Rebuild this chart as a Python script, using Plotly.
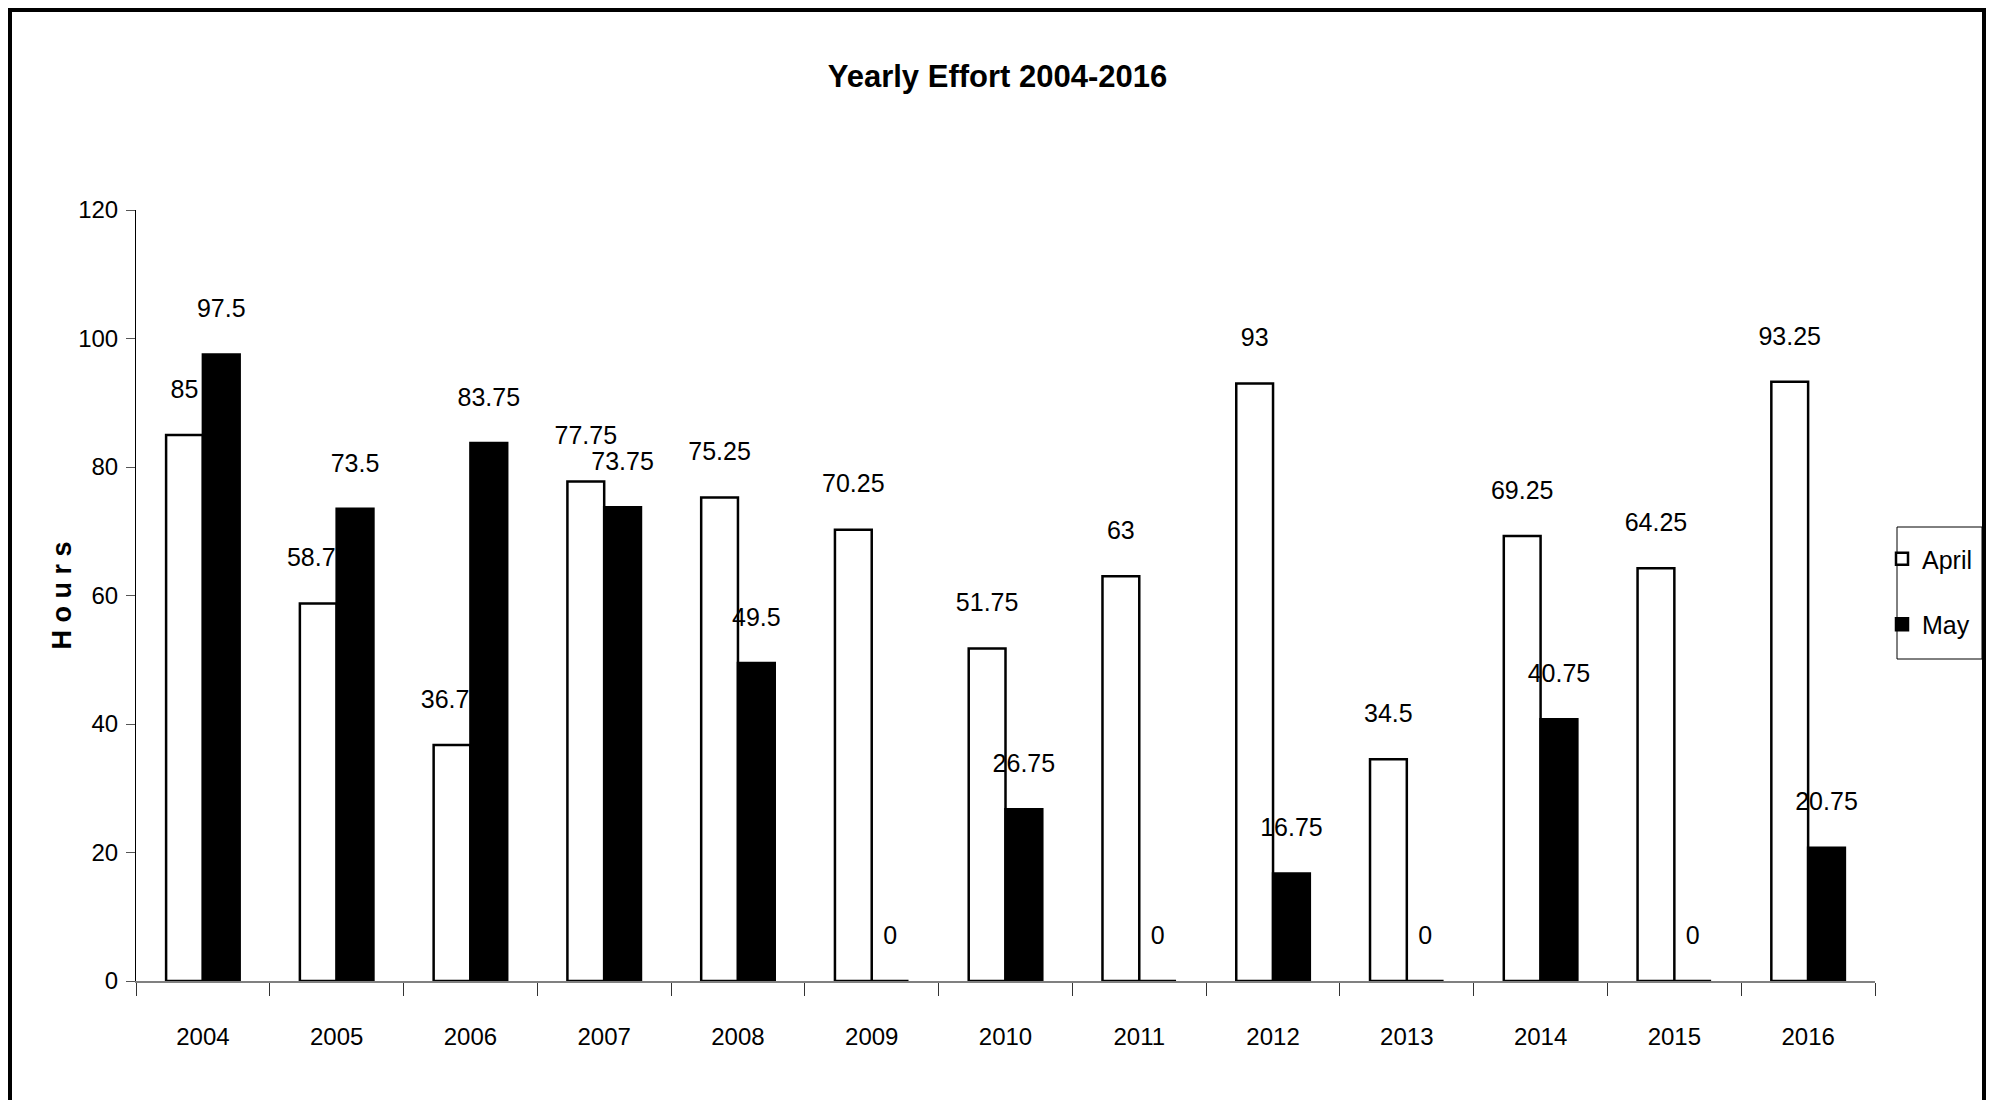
import plotly.graph_objects as go

years = ['2004', '2005', '2006', '2007', '2008', '2009', '2010',
         '2011', '2012', '2013', '2014', '2015', '2016']
april = [85, 58.75, 36.75, 77.75, 75.25, 70.25, 51.75, 63, 93, 34.5, 69.25, 64.25, 93.25]
may = [97.5, 73.5, 83.75, 73.75, 49.5, 0, 26.75, 0, 16.75, 0, 40.75, 0, 20.75]
y_ticks = [0, 20, 40, 60, 80, 100, 120]

FONT = 'Liberation Sans, Arial, sans-serif'

# the page body has an 8px margin, so the figure is a bit smaller than the window
W, H = 1979, 1092
L, R, T, B = 128, 112, 202, 119
PW, PH = W - L - R, H - T - B


def px_x(px):
    return (px - L) / PW


def px_y(py):
    return (H - B - py) / PH


def label_trace(vals, axes, show, group):
    # transparent markers only push the text up above the bar top
    return go.Scatter(
        x=years, y=vals, mode='markers+text',
        text=[f'{v:g}' for v in vals], textposition='top center',
        marker=dict(size=48, color='rgba(0,0,0,0)'),
        textfont=dict(family=FONT, size=25,
                      color='black' if show else 'rgba(0,0,0,0)'),
        offsetgroup=group, showlegend=False, hoverinfo='skip', cliponaxis=False,
        xaxis=axes[0], yaxis=axes[1],
    )


fig = go.Figure()

# April labels sit under the bars (May bars hide part of them), May labels on top
fig.add_trace(label_trace(april, ('x', 'y'), True, 'April'))
fig.add_trace(label_trace(may, ('x', 'y'), False, 'May'))

fig.add_trace(go.Bar(
    x=years, y=april, name='April', legendgroup='a', offsetgroup='April',
    marker=dict(color='white', line=dict(color='black', width=2.5)),
    xaxis='x2', yaxis='y2',
))
fig.add_trace(go.Bar(
    x=years, y=may, name='May', legendgroup='b', offsetgroup='May',
    marker=dict(color='black', line=dict(color='black', width=2.5)),
    xaxis='x2', yaxis='y2',
))
fig.add_trace(label_trace(april, ('x2', 'y2'), False, 'April'))
fig.add_trace(label_trace(may, ('x2', 'y2'), True, 'May'))

fig.update_layout(
    width=W, height=H,
    margin=dict(l=L, r=R, t=T, b=B, autoexpand=False),
    paper_bgcolor='white', plot_bgcolor='white',
    barmode='group', bargap=0.45, bargroupgap=0,
    scattermode='group', scattergap=0.45,
    title=dict(text='<b>Yearly Effort 2004-2016</b>', x=0.5, xanchor='center',
               y=1 - 68 / H, yanchor='middle',
               font=dict(family=FONT, size=31, color='black')),
    xaxis=dict(type='category', categoryorder='array', categoryarray=years,
               range=[-0.5, 12.5], showline=True, linecolor='#808080', linewidth=1.5,
               ticks='outside', tickson='boundaries', ticklen=13, tickcolor='#333333',
               tickfont=dict(family=FONT, size=24, color='black'),
               ticklabelstandoff=33, showgrid=False, zeroline=False),
    yaxis=dict(range=[0, 120], tickvals=y_ticks, showline=True, linecolor='black',
               linewidth=1, ticks='outside', ticklen=9, tickcolor='#555555',
               tickfont=dict(family=FONT, size=24, color='black'),
               ticklabelstandoff=3, showgrid=False, zeroline=False),
    xaxis2=dict(overlaying='x', type='category', categoryorder='array',
                categoryarray=years, range=[-0.5, 12.5], visible=False),
    yaxis2=dict(overlaying='y', range=[0, 120], visible=False),
    legend=dict(x=px_x(1874), xanchor='left', y=px_y(528), yanchor='top',
                borderwidth=0, bgcolor='rgba(0,0,0,0)',
                font=dict(family=FONT, size=25, color='black'),
                traceorder='grouped', tracegroupgap=30, itemwidth=30),
    showlegend=True,
)

fig.add_annotation(text='<b>H o u r s</b>', textangle=-90, xref='paper', yref='paper',
                   x=px_x(53), xanchor='center', y=0.5, yanchor='middle', showarrow=False,
                   font=dict(family=FONT, size=27, color='black'))

# legend box
fig.add_shape(type='rect', xref='paper', yref='paper', layer='below',
              x0=px_x(1889), x1=px_x(1974), y0=px_y(651), y1=px_y(519),
              line=dict(color='black', width=1), fillcolor='white')

# outer frame
fig.add_shape(type='rect', xref='paper', yref='paper',
              x0=px_x(2), x1=px_x(W - 3), y0=px_y(H + 20), y1=px_y(2),
              line=dict(color='black', width=4))

fig.write_html('out.html')
